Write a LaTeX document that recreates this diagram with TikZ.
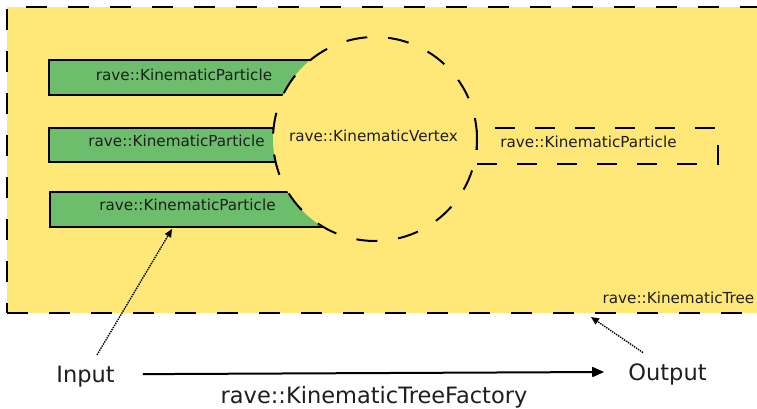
\documentclass[tikz,border=0pt]{standalone}
\usepackage{fontspec}
\setmainfont{DejaVu Sans}
\usetikzlibrary{arrows.meta,calc}

\definecolor{treeyellow}{HTML}{FFE877}
\definecolor{partgreen}{HTML}{6CBD6C}
\definecolor{inktext}{HTML}{1E1E1E}

\tikzset{
  smalltext/.style={font=\fontsize{15.2}{18}\selectfont, text=inktext, inner sep=0pt, anchor=base},
  bigtext/.style={font=\fontsize{22.5}{26}\selectfont, text=inktext, inner sep=0pt, anchor=base},
  treebox/.style={rectangle, fill=treeyellow, draw=black, line width=2.5pt,
    dash pattern=on 21pt off 21pt, inner sep=0pt},
  particle/.style={rectangle, fill=partgreen, draw=black, line width=2pt,
    minimum width=292pt, minimum height=34.5pt, inner sep=0pt, anchor=north west},
  outparticle/.style={rectangle, draw=black, line width=1.7pt,
    dash pattern=on 20pt off 20pt, minimum width=241pt, minimum height=36pt,
    inner sep=0pt, anchor=north west},
  vertexdisc/.style={circle, fill=treeyellow, draw=black, line width=2pt,
    dash pattern=on 21pt off 21pt, minimum size=204pt, inner sep=0pt},
  hint/.style={line width=1.4pt, densely dotted, -{Triangle[length=8pt,width=7pt]}},
  flow/.style={line width=2pt, -{Triangle[length=12pt,width=10pt]}}
}

\begin{document}
\begin{tikzpicture}[x=1pt,y=-1pt]
  \useasboundingbox (0,0) rectangle (757,408);

  % the tree container (its right edge runs off the page)
  \node[treebox, minimum width=770pt, minimum height=306pt] (tree) at (392,160) {};

  % incoming particles
  \node[particle] (p1) at (48,59) {};
  \node[particle] (p2) at (48,126.5) {};
  \node[particle] (p3) at (49,191) {};

  % outgoing particle
  \node[outparticle] (pout) at (476,127) {};

  % the vertex covers the inner ends of the particles
  \node[vertexdisc] (vertex) at (375,139) {};

  % labels
  \node[smalltext] (p1label) at (184,80) {rave::KinematicParticle};
  \node[smalltext] (p2label) at (176.5,146.7) {rave::KinematicParticle};
  \node[smalltext] (p3label) at (187.5,210.7) {rave::KinematicParticle};
  \node[smalltext] (vlabel) at (373.5,141.7) {rave::KinematicVertex};
  \node[smalltext] (poutlabel) at (588.5,147.3) {rave::KinematicParticle};
  \node[smalltext, anchor=base east] (treelabel) at (754.5,303) {rave::KinematicTree};

  % factory
  \node[bigtext] (input) at (85.5,382) {Input};
  \node[bigtext] (output) at (667.5,380) {Output};
  \node[bigtext] (factory) at (374,403.5) {rave::KinematicTreeFactory};

  \coordinate (inputtip) at (172,229);
  \coordinate (outputtip) at (591,317);

  \draw[flow] ([xshift=28pt,yshift=2pt]input.east) -- ([xshift=-24pt,yshift=2pt]output.west);
  \draw[hint] ([xshift=11.5pt,yshift=10.5pt]input.north) -- (inputtip);
  \draw[hint] ([xshift=-24.5pt,yshift=10.5pt]output.north) -- (outputtip);
\end{tikzpicture}
\end{document}
